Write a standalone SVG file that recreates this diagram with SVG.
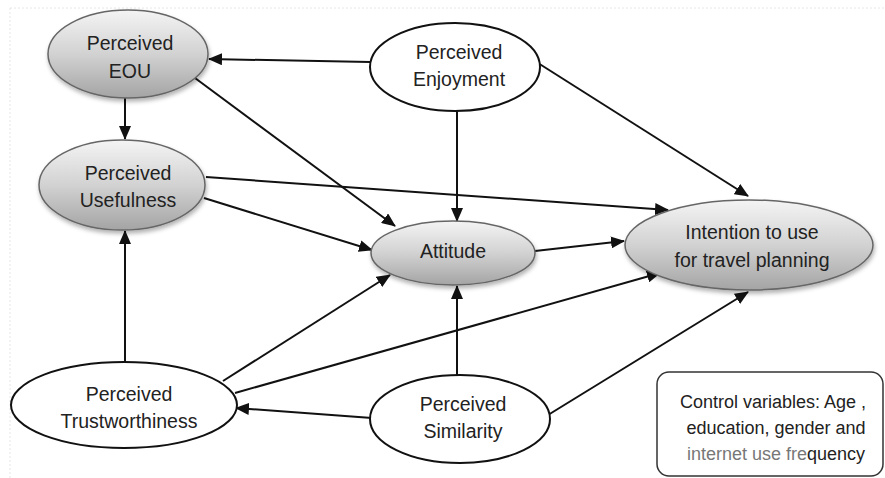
<svg xmlns="http://www.w3.org/2000/svg" width="885" height="478" viewBox="0 0 885 478">
<defs>
<linearGradient id="g" x1="0" y1="0" x2="0" y2="1">
<stop offset="0" stop-color="#f4f4f4"/>
<stop offset="0.5" stop-color="#d2d2d2"/>
<stop offset="1" stop-color="#a4a4a4"/>
</linearGradient>
<filter id="sh" x="-20%" y="-20%" width="140%" height="150%">
<feDropShadow dx="1" dy="3" stdDeviation="2" flood-color="#000" flood-opacity="0.3"/>
</filter>
<marker id="ah" markerWidth="14" markerHeight="12" refX="13" refY="6" orient="auto" markerUnits="userSpaceOnUse">
<path d="M0,0 L14,6 L0,12 Z" fill="#111"/>
</marker>
</defs>
<style>
.gray{fill:url(#g);stroke:#666;stroke-width:1.5;filter:url(#sh)}
.white{fill:#fff;stroke:#111;stroke-width:2}
.t{font-family:"Liberation Sans",Arial,sans-serif;font-size:19.5px;fill:#222;text-anchor:middle}
.s{font-size:18px}
.c{stroke:#111;stroke-width:2;fill:none;marker-end:url(#ah)}
</style>
<rect width="885" height="478" fill="#fff"/>
<rect x="10" y="8" width="880" height="475" fill="none" stroke="#e6e6e6" stroke-width="1" stroke-dasharray="2 2"/>
<g id="connectors">
<line class="c" x1="370" y1="62" x2="209" y2="59"/>
<line class="c" x1="195" y1="78" x2="395" y2="226"/>
<line class="c" x1="125" y1="98" x2="125" y2="139"/>
<line class="c" x1="457" y1="111" x2="457" y2="221"/>
<line class="c" x1="538" y1="63" x2="748" y2="196"/>
<line class="c" x1="206" y1="177" x2="668" y2="210"/>
<line class="c" x1="204" y1="198" x2="372" y2="250"/>
<line class="c" x1="535" y1="251" x2="624" y2="241"/>
<line class="c" x1="125" y1="362" x2="125" y2="231"/>
<line class="c" x1="223" y1="381" x2="390" y2="275"/>
<line class="c" x1="235" y1="393" x2="660" y2="273"/>
<line class="c" x1="372" y1="418" x2="236" y2="408"/>
<line class="c" x1="457" y1="375" x2="457" y2="286"/>
<line class="c" x1="548" y1="415" x2="748" y2="292"/>
</g>
<g id="eou">
<ellipse class="gray" cx="128" cy="54" rx="80" ry="44"/>
<text class="t" x="130" y="50">Perceived</text>
<text class="t" x="130" y="78">EOU</text>
</g>
<g id="usefulness">
<ellipse class="gray" cx="122" cy="185" rx="83" ry="45"/>
<text class="t" x="128" y="180">Perceived</text>
<text class="t" x="128" y="207">Usefulness</text>
</g>
<g id="enjoyment">
<ellipse class="white" cx="455" cy="67" rx="85" ry="44"/>
<text class="t" x="459" y="59">Perceived</text>
<text class="t" x="459" y="86">Enjoyment</text>
</g>
<g id="attitude">
<ellipse class="gray" cx="453" cy="253" rx="82" ry="32"/>
<text class="t" x="453" y="258">Attitude</text>
</g>
<g id="intention">
<ellipse class="gray" cx="749" cy="245" rx="124" ry="45"/>
<text class="t" x="752" y="239">Intention to use</text>
<text class="t" x="752" y="267">for travel planning</text>
</g>
<g id="trustworthiness">
<ellipse class="white" cx="124" cy="405" rx="113" ry="43"/>
<text class="t" x="129" y="401">Perceived</text>
<text class="t" x="129" y="428">Trustworthiness</text>
</g>
<g id="similarity">
<ellipse class="white" cx="460" cy="419" rx="90" ry="44"/>
<text class="t" x="463" y="411">Perceived</text>
<text class="t" x="463" y="438">Similarity</text>
</g>
<g id="control">
<rect x="657" y="372" width="226" height="104" rx="12" fill="#fff" stroke="#333" stroke-width="1.5"/>
<text class="t s" x="773" y="408">Control variables:  Age ,</text>
<text class="t s" x="776" y="434">education, gender  and</text>
<text class="t s" x="776" y="460"><tspan fill="#777">internet use fre</tspan><tspan fill="#222">quency</tspan></text>
</g>
</svg>
